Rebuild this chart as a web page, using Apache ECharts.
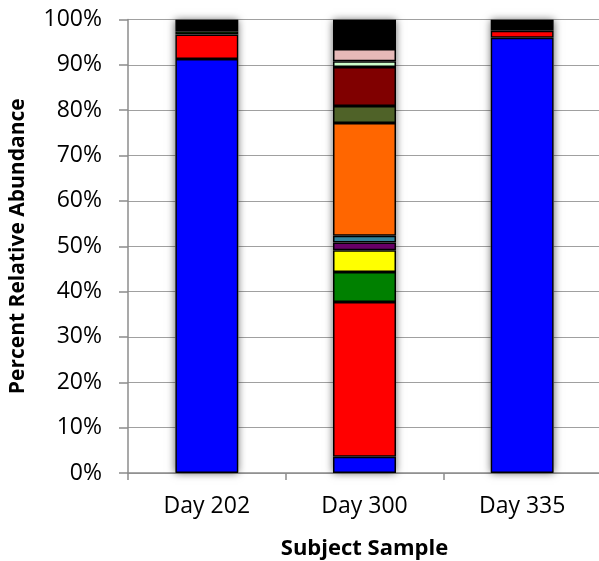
<!DOCTYPE html>
<html>
<head>
<meta charset="utf-8">
<script src="https://cdn.jsdelivr.net/npm/echarts@6/dist/echarts.min.js"></script>
<style>html,body{margin:0;padding:0;background:#fff;}#c{width:599px;height:561px;}</style>
</head>
<body>
<div id="c"></div>
<script>
const categories = ['Day 202', 'Day 300', 'Day 335'];
const yTicks = [0, 10, 20, 30, 40, 50, 60, 70, 80, 90, 100];

// Stacked segments, bottom to top (percent relative abundance)
const taxonA = [91.3, 3.6, 96.0];   // blue
const taxonB = [5.4, 34.1, 1.5];    // red
const taxonC = [0.7, 6.6, null];    // green
const taxonD = [null, 4.8, 0.6];    // yellow
const taxonE = [null, 1.7, null];   // purple
const taxonF = [null, 1.5, null];   // teal
const taxonG = [null, 24.9, null];  // orange
const taxonH = [null, 3.7, null];   // olive
const taxonI = [null, 8.6, null];   // dark red
const taxonJ = [null, 1.3, null];   // light green
const taxonK = [null, 2.7, null];   // pink
const taxonL = [2.6, 6.5, 1.9];     // black (other)

const seriesData = [taxonA, taxonB, taxonC, taxonD, taxonE, taxonF, taxonG, taxonH, taxonI, taxonJ, taxonK, taxonL];
const seriesNames = ['Taxon A','Taxon B','Taxon C','Taxon D','Taxon E','Taxon F','Taxon G','Taxon H','Taxon I','Taxon J','Taxon K','Other'];
const colors = ['#0000FF','#FF0000','#008000','#FFFF00','#660066','#31849B','#FF6600','#4F6228','#800000','#CCFFCC','#E6B9B8','#000000'];

const totals = categories.map((c, i) => seriesData.reduce((s, arr) => s + (arr[i] || 0), 0));

const font = 'Open Sans';
const chart = echarts.init(document.getElementById('c'), null, {renderer: 'canvas'});

const series = [{
  name: 'shadow',
  type: 'bar',
  data: totals,
  barWidth: 63,
  barGap: '-100%',
  z: 1,
  silent: true,
  itemStyle: {color: '#ffffff', shadowBlur: 8, shadowColor: 'rgba(0,0,0,0.6)'}
}];
seriesData.forEach((arr, k) => {
  series.push({
    name: seriesNames[k],
    type: 'bar',
    stack: 'total',
    data: arr.map(v => v == null ? '-' : v),
    barWidth: 63,
    z: 3,
    itemStyle: {color: colors[k], borderColor: '#000', borderWidth: 1.5}
  });
});

chart.setOption({
  animation: false,
  backgroundColor: '#ffffff',
  grid: {left: 128, top: 19.5, width: 473, bottom: 88, containLabel: false, outerBoundsMode: 'none'},
  xAxis: {
    type: 'category',
    data: categories,
    name: 'Subject Sample',
    nameLocation: 'middle',
    nameGap: 65,
    nameTextStyle: {fontFamily: font, fontWeight: 'bold', fontSize: 22, color: '#000'},
    axisLine: {lineStyle: {color: '#8C8C8C', width: 1.5}},
    axisTick: {show: true, length: 7, lineStyle: {color: '#8C8C8C', width: 1.5}},
    axisLabel: {fontFamily: font, fontSize: 23, color: '#000', margin: 22}
  },
  yAxis: {
    type: 'value',
    min: yTicks[0],
    max: yTicks[yTicks.length - 1],
    interval: 10,
    name: 'Percent Relative Abundance',
    nameLocation: 'middle',
    nameGap: 99,
    nameTextStyle: {fontFamily: font, fontWeight: 'bold', fontSize: 21, color: '#000'},
    axisLine: {show: true, lineStyle: {color: '#8C8C8C', width: 1.5}},
    axisTick: {show: true, length: 9, lineStyle: {color: '#8C8C8C', width: 1.5}},
    splitLine: {show: true, lineStyle: {color: '#A0A0A0', width: 1}},
    axisLabel: {fontFamily: font, fontSize: 23, color: '#000', margin: 26, formatter: '{value}%'}
  },
  series: series
});
</script>
</body>
</html>
